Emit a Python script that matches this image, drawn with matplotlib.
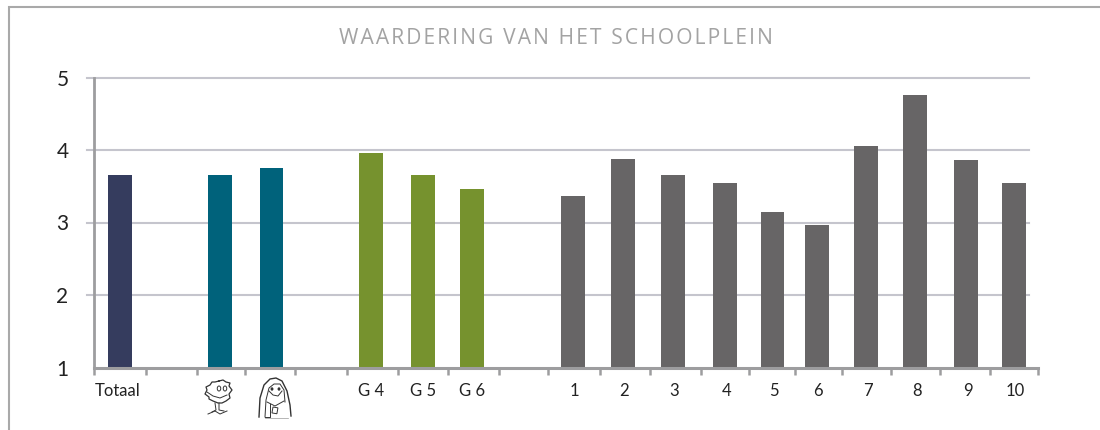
import matplotlib
matplotlib.use("Agg")
import matplotlib.pyplot as plt
from matplotlib.patches import Ellipse, Rectangle

# data
totaal = [3.66]
geslacht = [3.65, 3.75]
groepen = [3.96, 3.65, 3.46]
klassen = [3.36, 3.87, 3.65, 3.55, 3.15, 2.96, 4.05, 4.76, 3.86, 3.55]
groep_labels = ["G 4", "G 5", "G 6"]
klas_labels = ["1", "2", "3", "4", "5", "6", "7", "8", "9", "10"]
y_ticks = [1, 2, 3, 4, 5]

# bar centres in slot units, the reference is not quite regular
pos_totaal = [0.53]
pos_geslacht = [2.54, 3.58]
pos_groepen = [5.58, 6.62, 7.61]
pos_klassen = [9.64, 10.65, 11.65, 12.70, 13.66, 14.55, 15.54, 16.53, 17.56, 18.52]
slot_ticks = [0, 1.06, 2.09, 3.05, 4.05, 5.1, 6.12, 7.14, 8.15, 9.14, 10.19, 11.2,
              12.22, 13.19, 14.11, 15.06, 16.04, 17.03, 18.03, 19]

smal = "Lato"

W, H = 1100, 430
fig = plt.figure(figsize=(W / 100, H / 100), dpi=100, facecolor="white")

# overlay in pixels for frame and the two little figures
bg = fig.add_axes([0, 0, 1, 1], zorder=3)
bg.set_xlim(0, W)
bg.set_ylim(H, 0)
bg.axis("off")
bg.patch.set_alpha(0)
bg.plot([9, 9, 1100], [430, 6.5, 6.5], color="#a9a9a9", lw=1.5, solid_joinstyle="miter")

# main axes: left spine at 93.5 px, y=1 at 367.5 px, y=5 at 77.5 px
ax = fig.add_axes([93.5 / W, (H - 367.5) / H, (1038 - 93.5) / W, 290 / H])
ax.set_xlim(0, 19)
ax.set_ylim(1, 5)
ax.patch.set_alpha(0)

for v in y_ticks[1:]:
    ax.plot([-0.13, 18.81], [v, v], color="#c5c5cd", lw=1.5, clip_on=False, zorder=1)

w = 0.48
ax.bar(pos_totaal, [v - 1 for v in totaal], w, bottom=1, color="#353c5e", zorder=2)
ax.bar(pos_geslacht, [v - 1 for v in geslacht], w, bottom=1, color="#00627b", zorder=2)
ax.bar(pos_groepen, [v - 1 for v in groepen], w, bottom=1, color="#76922e", zorder=2)
ax.bar(pos_klassen, [v - 1 for v in klassen], w, bottom=1, color="#676566", zorder=2)

for s in ["top", "right"]:
    ax.spines[s].set_visible(False)
ax.spines["left"].set_color("#9d9d9f")
ax.spines["left"].set_linewidth(2)
ax.spines["bottom"].set_color("#9d9d9f")
ax.spines["bottom"].set_linewidth(2.2)

ax.set_xticks(slot_ticks)
ax.set_xticklabels([])
ax.tick_params(axis="x", length=5, width=1.8, color="#9d9d9f")
ax.set_yticks(y_ticks)
ax.set_yticklabels([str(v) for v in y_ticks], family=smal, fontsize=15, color="#222222")
ax.tick_params(axis="y", length=0, pad=18)

# x labels, set below the axis with the slot positions
lab_y = -0.082
ax.text(0.49, lab_y, "Totaal", transform=ax.get_xaxis_transform(), ha="center", va="center",
        family=smal, fontsize=12, color="#222222")
for p, t in zip(pos_groepen, groep_labels):
    ax.text(p, lab_y, t, transform=ax.get_xaxis_transform(), ha="center", va="center",
            family=smal, fontsize=12, color="#222222")
for p, t in zip(pos_klassen, klas_labels):
    ax.text(p + 0.03, lab_y, t, transform=ax.get_xaxis_transform(), ha="center", va="center",
            family=smal, fontsize=12, color="#222222")

# title with hair spaces for the wide tracking
titel = "WAARDERING VAN HET SCHOOLPLEIN"
fig.text(556 / W, 1 - 38.5 / H, "\u200a".join(titel), ha="center", va="center",
         family=["Open Sans", "DejaVu Sans"], fontsize=15.1, color="#a3a3a3")

# jongen
lw = 0.7
ink = "#333333"
bg.plot([219, 223, 226, 230, 229, 232, 229, 230, 226, 222, 218, 213, 209, 209, 205, 207, 206, 210, 212, 215, 219],
        [381, 380, 382, 383, 386, 390, 394, 398, 401, 403, 403, 401, 399, 397, 394, 390, 387, 385, 382, 382, 381],
        color=ink, lw=lw + 0.2)
bg.add_patch(Ellipse((219, 388.5), 3.5, 5, fill=False, ec=ink, lw=lw))
bg.add_patch(Ellipse((225, 388.5), 3.5, 5, fill=False, ec=ink, lw=lw))
bg.plot([207, 213, 220, 227], [392, 396, 398, 395], color=ink, lw=lw)
bg.plot([215, 216, 212], [403, 410, 412], color=ink, lw=lw)
bg.plot([219, 219, 224], [403, 410, 411], color=ink, lw=lw)
bg.plot([208, 215, 220, 227], [414, 411, 414, 411], color=ink, lw=lw)

# meisje
bg.plot([259, 260, 264, 270, 276, 282, 287, 290, 291],
        [417, 398, 385, 379, 378, 381, 391, 405, 416], color=ink, lw=lw + 0.3)
bg.plot([265, 266, 269, 274, 280, 284, 285],
        [417, 400, 388, 384, 384, 390, 402], color=ink, lw=lw)
bg.plot([269, 273, 278, 282], [391, 395, 396, 391], color=ink, lw=lw)
bg.add_patch(Ellipse((272, 389), 1.5, 2, color=ink))
bg.add_patch(Ellipse((279, 389), 1.5, 2, color=ink))
bg.plot([267, 275, 284], [402, 406, 401], color=ink, lw=lw)
bg.plot([270, 270, 265], [404, 417, 417], color=ink, lw=lw)
bg.add_patch(Rectangle((273, 407), 5, 6, fill=False, ec=ink, lw=lw, angle=10))
bg.plot([265, 288], [418, 418], color="#999999", lw=0.5)

fig.savefig("out.png", dpi=100, facecolor="white")
